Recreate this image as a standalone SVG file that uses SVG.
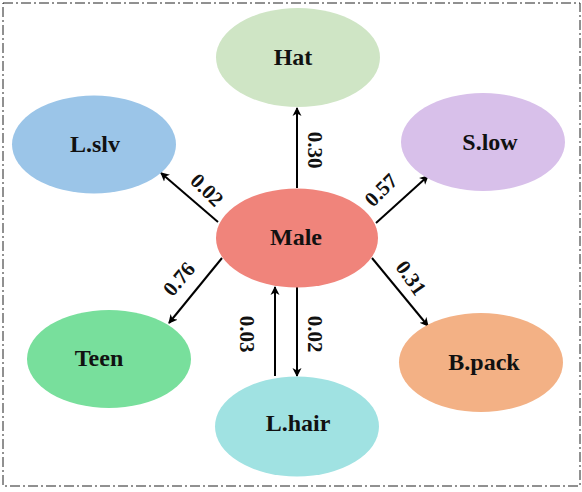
<svg xmlns="http://www.w3.org/2000/svg" width="582" height="492" viewBox="0 0 582 492">
<style>
.nl{font-family:"Liberation Serif","Times New Roman",serif;font-weight:bold;font-size:24px;fill:#111;text-anchor:middle}
.el{font-family:"Liberation Serif","Times New Roman",serif;font-weight:bold;font-size:21px;fill:#111;text-anchor:middle}
.cn{stroke:#000;stroke-width:2;fill:none;marker-end:url(#ah)}
</style>
<defs>
<marker id="ah" markerWidth="10" markerHeight="10" refX="8" refY="5" orient="auto" markerUnits="userSpaceOnUse">
<path d="M0,0.5 L9,5 L0,9.5 L2.5,5 Z" fill="#000"/>
</marker>
</defs>
<rect x="3" y="3" width="577" height="483" fill="none" stroke="#222" stroke-width="1" stroke-dasharray="10,3,2,3"/>
<g id="connectors">
<line class="cn" x1="297" y1="188" x2="297" y2="108"/>
<line class="cn" x1="218" y1="222" x2="161" y2="173"/>
<line class="cn" x1="376" y1="223" x2="428" y2="176"/>
<line class="cn" x1="222" y1="258" x2="169" y2="323"/>
<line class="cn" x1="372" y1="258" x2="428" y2="326"/>
<line class="cn" x1="275" y1="376" x2="275" y2="287"/>
<line class="cn" x1="297" y1="287" x2="297" y2="376"/>
<text class="el" transform="translate(315,150) rotate(90)" y="7">0.30</text>
<text class="el" transform="translate(207,190) rotate(45)" y="7">0.02</text>
<text class="el" transform="translate(381,190) rotate(-45)" y="7">0.57</text>
<text class="el" transform="translate(179,279) rotate(-50)" y="7">0.76</text>
<text class="el" transform="translate(411,278) rotate(55)" y="7">0.31</text>
<text class="el" transform="translate(247,334) rotate(90)" y="7">0.03</text>
<text class="el" transform="translate(315,334) rotate(90)" y="7">0.02</text>
</g>
<g id="hat"><ellipse cx="298" cy="57.5" rx="82" ry="49.5" fill="#cfe5c5"/><text class="nl" x="293" y="65">Hat</text></g>
<g id="lslv"><ellipse cx="94" cy="144.5" rx="82" ry="49" fill="#9bc5e8"/><text class="nl" x="95" y="152">L.slv</text></g>
<g id="slow"><ellipse cx="483" cy="142" rx="82" ry="49" fill="#d8c0ea"/><text class="nl" x="490" y="150">S.low</text></g>
<g id="male"><ellipse cx="297" cy="238" rx="81" ry="49.5" fill="#f0847b"/><text class="nl" x="296" y="245">Male</text></g>
<g id="teen"><ellipse cx="109" cy="359" rx="82" ry="49" fill="#78df9c"/><text class="nl" x="99" y="366">Teen</text></g>
<g id="bpack"><ellipse cx="481" cy="362.5" rx="82" ry="49.5" fill="#f3b185"/><text class="nl" x="484" y="370">B.pack</text></g>
<g id="lhair"><ellipse cx="297" cy="426.5" rx="82" ry="50" fill="#a0e2e2"/><text class="nl" x="298" y="431">L.hair</text></g>
</svg>
